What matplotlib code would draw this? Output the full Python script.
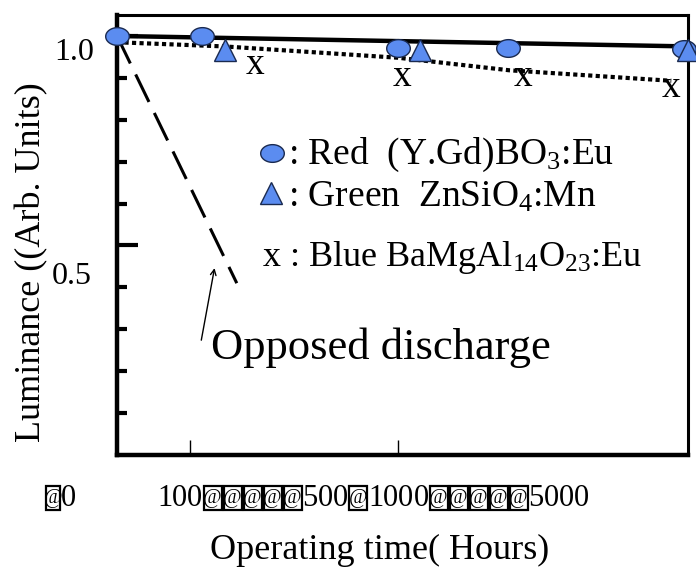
import numpy as np
import matplotlib
matplotlib.use("Agg")
import matplotlib.pyplot as plt
from matplotlib.path import Path
from matplotlib.patches import Rectangle
from matplotlib.font_manager import FontProperties

plt.rcParams['font.family'] = ['Liberation Serif', 'DejaVu Serif']
plt.rcParams['mathtext.fontset'] = 'custom'
plt.rcParams['mathtext.rm'] = 'Liberation Serif'
plt.rcParams['mathtext.it'] = 'Liberation Serif'

# ---- data (hours, luminance) ----
red_hours = [0, 123, 1000, 2460, 9700]
red_lum = [1.0, 1.0, 0.972, 0.972, 0.968]
red_fit_hours = [0, 10000]
red_fit_lum = [1.0, 0.975]

green_hours = [172, 1200, 10000]
green_lum = [0.967, 0.967, 0.967]

blue_hours = [250, 1030, 2770, 8780]
blue_lum = [0.94, 0.912, 0.912, 0.885]
blue_fit_hours = [0, 170, 1000, 2500, 8800]
blue_fit_lum = [0.985, 0.975, 0.948, 0.918, 0.893]

opposed_hours = [0, 200]
opposed_lum = [1.0, 0.41]

xtick_vals = [100, 1000]
ytick_vals = [0.1, 0.2, 0.3, 0.4, 0.6, 0.7, 0.8, 0.9]
ymajor_vals = [0.5, 1.0]
ylabels = ["1.0", "0.5"]
xlabel_left = "@0"
xlabel_main = "100@@@@@500@1000@@@@@5000"

blue = "#5b8cf0"
SHIFT = 136.0

def fwd(h):
    return np.log10(np.asarray(h, dtype=float) + SHIFT)

def inv(u):
    return 10 ** np.asarray(u, dtype=float) - SHIFT

W, H = 696, 571
fig = plt.figure(figsize=(6.96, 5.71), dpi=100)
ax = fig.add_axes([117/W, 1-455/H, (688-117)/W, (455-15)/H])
ax.set_xscale('function', functions=(fwd, inv))
ax.set_xlim(0, 10000)
ax.set_ylim(0, 1.05)

# ellipse marker
t = np.linspace(0, 2*np.pi, 60)
ell = Path(np.column_stack([np.cos(t), 0.75*np.sin(t)]), closed=True)

ax.plot(red_fit_hours, red_fit_lum, color='black', lw=3.2, zorder=2, clip_on=False)
ax.plot(blue_fit_hours, blue_fit_lum, color='black', lw=3, ls=(0, (1, 0.8)), zorder=2, clip_on=False)
ax.plot(opposed_hours, opposed_lum, color='black', lw=2.2, ls=(0, (10, 4)), zorder=2, clip_on=False)
ax.plot(red_hours, red_lum, ls='none', marker=ell, ms=17, mfc=blue, mec='#1a2a50', mew=1, zorder=4, clip_on=False)
ax.plot(green_hours, green_lum, ls='none', marker='^', ms=16, mfc=blue, mec='#1a2a50', mew=1, zorder=5, clip_on=False)
for h, l in zip(blue_hours, blue_lum):
    ax.text(h, l, "x", fontsize=27, ha='center', va='center_baseline', zorder=5)

# spines
for s in ['left', 'bottom']:
    ax.spines[s].set_linewidth(3.2)
for s in ['top', 'right']:
    ax.spines[s].set_linewidth(2.2)

ax.set_xticks(xtick_vals)
ax.set_xticklabels([])
ax.tick_params(axis='x', direction='in', length=11, width=1)
ax.set_yticks(ytick_vals)
ax.set_yticks(ymajor_vals, minor=True)
ax.set_yticklabels([])
ax.tick_params(axis='y', which='major', direction='in', length=7, width=3)
ax.tick_params(axis='y', which='minor', direction='in', length=15, width=3)
ax.tick_params(axis='y', which='minor', labelleft=False)

# y tick labels (drawn slightly below their ticks, as in reference)
fig.text(74/W, 1-52/H, ylabels[0], fontsize=23, ha='center', va='center')
fig.text(72/W, 1-276/H, ylabels[1], fontsize=23, ha='center', va='center')

# axis labels
fig.text(32/W, 1-262/H, "Luminance ((Arb. Units)", fontsize=26, rotation=90, ha='center', va='center')
fig.text(380/W, 1-550/H, "Operating time( Hours)", fontsize=26, ha='center', va='center')

# garbled x tick label strings, laid out char by char
fig.canvas.draw()
r = fig.canvas.get_renderer()
fp = FontProperties(family='Liberation Serif', size=22)

def place_string(x0, yc, s, at_adv):
    x = x0
    for c in s:
        if c == '@':
            fig.text((x + at_adv/2)/W, 1-yc/H, '@', fontsize=14.5, ha='center', va='center')
            fig.patches.append(Rectangle((x + 1, H - yc - 12), at_adv - 2, 24,
                                         transform=None, fill=False, lw=1.6, ec='black'))
            x += at_adv
        else:
            w, _, _ = r.get_text_width_height_descent(c, fp, ismath=False)
            fig.text(x/W, 1-yc/H, c, fontproperties=fp, ha='left', va='center')
            x += w

place_string(45, 498, xlabel_left, 16)
place_string(157, 498, xlabel_main, 20)

# legend-like annotation
ax.plot([0.271], [0.686], transform=ax.transAxes, ls='none', marker=ell, ms=17, mfc=blue, mec='#1a2a50', mew=1, clip_on=False)
ax.plot([0.270], [0.595], transform=ax.transAxes, ls='none', marker='^', ms=16, mfc=blue, mec='#1a2a50', mew=1, clip_on=False)
ax.text(0.300, 0.661, r": Red  (Y.Gd)BO$_\mathrm{3}$:Eu", transform=ax.transAxes, fontsize=27, va='baseline')
ax.text(0.300, 0.564, r": Green  ZnSiO$_\mathrm{4}$:Mn", transform=ax.transAxes, fontsize=27, va='baseline')
ax.text(0.254, 0.430, r"x : Blue BaMgAl$_\mathrm{14}$O$_\mathrm{23}$:Eu", transform=ax.transAxes, fontsize=26, va='baseline')

# opposed discharge annotation
ax.annotate("", xy=(148, 0.446), xytext=(121, 0.274),
            arrowprops=dict(arrowstyle='->', lw=1, color='black', shrinkA=0, shrinkB=0))
ax.text(141, 0.255, "Opposed discharge", fontsize=32, ha='left', va='center')

fig.savefig("out.png", dpi=100)
